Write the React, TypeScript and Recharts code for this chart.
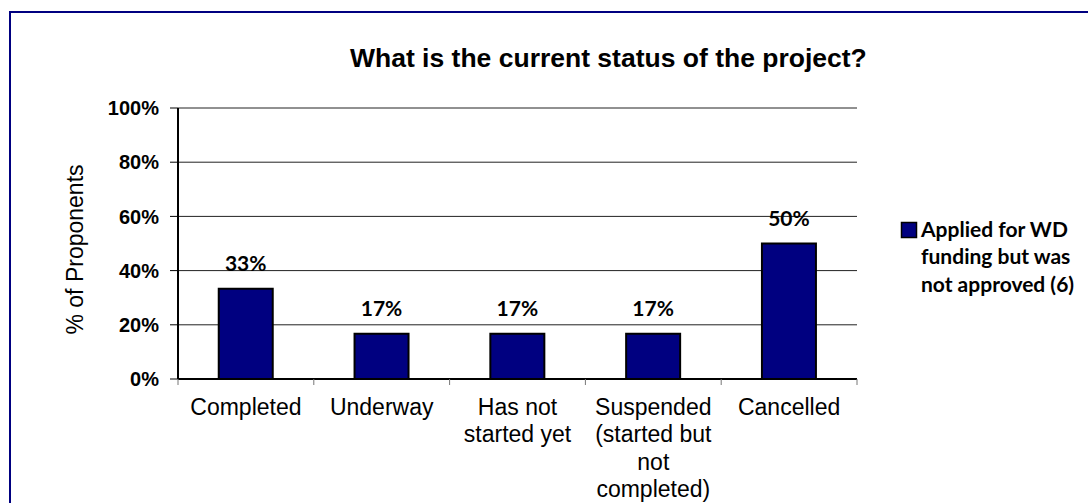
import React from 'react';
import { BarChart, Bar, XAxis, YAxis, CartesianGrid, LabelList, Legend } from 'recharts';

const title = 'What is the current status of the project?';
const yAxisTitle = '% of Proponents';
const categories = ['Completed', 'Underway', 'Has not started yet', 'Suspended (started but not completed)', 'Cancelled'];
const categoryLines = [['Completed'], ['Underway'], ['Has not', 'started yet'], ['Suspended', '(started but', 'not', 'completed)'], ['Cancelled']];
const values = [33.33, 16.67, 16.67, 16.67, 50];
const valueLabels = ['33%', '17%', '17%', '17%', '50%'];
const yTicks = [0, 20, 40, 60, 80, 100];
const seriesName = 'Applied for WD funding but was not approved (6)';
const legendLines = ['Applied for WD', 'funding but was', 'not approved (6)'];

const data = categories.map((c, i) => ({ name: c, value: values[i], label: valueLabels[i] }));

const ARIAL = '"Liberation Sans", Arial, sans-serif';
const CALIBRI = 'Lato, "Open Sans", sans-serif';
const NAVY = '#000080';

const XTick = (props: any) => {
  const { x, y, payload } = props;
  const idx = categories.indexOf(payload.value);
  const lines = categoryLines[idx] || [payload.value];
  const half = payload && typeof payload.offset === 'number' && payload.offset > 0 ? payload.offset : 67.9;
  const axisY = y - 6;
  return (
    <g>
      <line x1={x - half} y1={axisY} x2={x - half} y2={axisY + 6} stroke="#777" strokeWidth={1} />
      {idx === categories.length - 1 && (
        <line x1={x + half} y1={axisY} x2={x + half} y2={axisY + 6} stroke="#777" strokeWidth={1} />
      )}
      <text x={x} y={axisY + 36} textAnchor="middle" fontFamily={ARIAL} fontSize={23} fill="#000">
        {lines.map((l, i) => (
          <tspan key={i} x={x} dy={i === 0 ? 0 : 27.3}>{l}</tspan>
        ))}
      </text>
    </g>
  );
};

const YTitle = (props: any) => {
  const vb = props.viewBox || { x: 20, y: 108, width: 158, height: 271 };
  const cx = vb.x + 55;
  const cy = vb.y + vb.height / 2 + 6;
  return (
    <text x={cx} y={cy} transform={`rotate(-90 ${cx} ${cy})`} textAnchor="middle" dominantBaseline="central"
      fontFamily={ARIAL} fontSize={23} fill="#000">{yAxisTitle}</text>
  );
};

const LegendContent = () => (
  <svg width={188} height={100} style={{ display: 'block' }}>
    <rect x={1.5} y={12.5} width={15} height={15} fill={NAVY} stroke="#000" strokeWidth={1.5} />
    <text x={21} y={26.7} fontFamily={CALIBRI} fontWeight={700} fontSize={21} fill="#000">
      {legendLines.map((l, i) => (
        <tspan key={i} x={21} dy={i === 0 ? 0 : 27.6}>{l}</tspan>
      ))}
    </text>
  </svg>
);

export default function App() {
  return (
    <div style={{ position: 'relative', width: 1088, height: 503, overflow: 'hidden', background: '#fff' }}>
      <style>{'body{margin:0;overflow:hidden;background:#fff}'}</style>
      <div style={{ position: 'absolute', left: 9, top: 11, width: 1300, height: 700, border: `2px solid ${NAVY}`, boxSizing: 'border-box' }} />
      <div style={{ position: 'absolute', left: 0, top: 0 }}>
        <BarChart width={1088} height={503} data={data} margin={{ top: 108, right: 231, bottom: 6, left: 20 }} barCategoryGap="30%">
          <CartesianGrid vertical={false} stroke="#222" strokeWidth={1} />
          <XAxis xAxisId="top" orientation="top" dataKey="name" height={0} tick={false} tickLine={false} axisLine={{ stroke: '#000', strokeWidth: 2 }} />
          <YAxis yAxisId="right" orientation="right" width={0} tick={false} tickLine={false} axisLine={{ stroke: '#000', strokeWidth: 2 }} domain={[0, 100]} />
          <XAxis dataKey="name" height={118} interval={0} tickLine={false} tickSize={6} tickMargin={0}
            axisLine={{ stroke: '#000', strokeWidth: 2 }} tick={<XTick />} />
          <YAxis width={158} domain={[0, 100]} ticks={yTicks} interval={0} tickSize={8} tickMargin={11}
            tickFormatter={(v: number) => `${v}%`}
            tick={{ fontFamily: ARIAL, fontSize: 20, fontWeight: 700, fill: '#000' }}
            tickLine={{ stroke: '#000', strokeWidth: 1 }} axisLine={{ stroke: '#000', strokeWidth: 2 }}
            label={<YTitle />} />
          <Legend layout="vertical" align="center" verticalAlign="middle"
            wrapperStyle={{ left: 900, top: 210, width: 188, height: 100 }} content={<LegendContent />} />
          <Bar dataKey="value" name={seriesName} fill={NAVY} stroke="#000" strokeWidth={2} isAnimationActive={false}>
            <LabelList dataKey="label" position="top" offset={18} fontFamily={CALIBRI} fontWeight={700} fontSize={21} fill="#000" />
          </Bar>
        </BarChart>
      </div>
      <svg width={1088} height={503} style={{ position: 'absolute', left: 0, top: 0, pointerEvents: 'none' }}>
        <text x={350} y={67} fontFamily={ARIAL} fontWeight={700} fontSize={26.5} fill="#000">{title}</text>
      </svg>
    </div>
  );
}
